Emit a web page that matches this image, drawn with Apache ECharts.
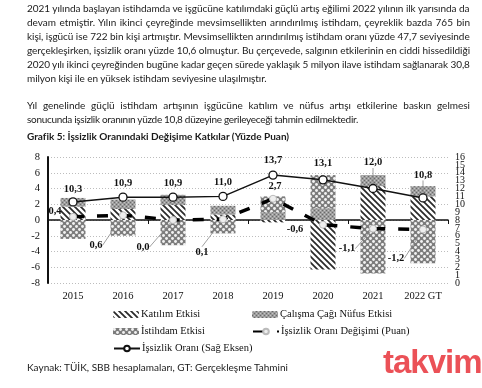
<!DOCTYPE html>
<html><head><meta charset="utf-8">
<script src="https://cdn.jsdelivr.net/npm/echarts@6/dist/echarts.min.js"></script>
<style>
html,body{margin:0;padding:0;background:#fff;}
#wrap{position:relative;width:482px;height:388px;overflow:hidden;}
#chart{position:absolute;left:0;top:0;width:482px;height:388px;}
.ln{position:absolute;left:27px;white-space:nowrap;font-family:Lato,"Open Sans",sans-serif;font-size:10px;color:#1a1a1a;line-height:12px;}
.ttl{font-weight:bold;}
#wm{position:absolute;left:383px;top:343px;font-family:"Liberation Sans",Arial,sans-serif;font-weight:bold;font-size:33px;color:#e8333a;opacity:0.85;letter-spacing:-1px;}
</style></head>
<body><div id="wrap"><div id="chart"></div>
<div id="texts"></div>
<div id="wm">takvim</div>
</div>
<script>
// ---------------- data ----------------
const categories = ['2015','2016','2017','2018','2019','2020','2021','2022 GT'];
const katilim  = [1.7, 1.4, 1.9, 0.7, -0.3, -6.3, 4.3, 3.0];
const nufus    = [1.1, 1.2, 1.3, 1.1, 1.0, 1.5, 1.4, 1.3];
const istihdam = [-2.4, -2.0, -3.2, -1.7, 2.0, 4.2, -6.8, -5.5];
const degisim  = [0.4, 0.6, 0.0, 0.1, 2.7, -0.6, -1.1, -1.2];
const oran     = [10.3, 10.9, 10.9, 11.0, 13.7, 13.1, 12.0, 10.8];
const leftTicks = {min:-8, max:8, interval:2};
const rightEvenTicks = [0, 2, 4, 6, 8, 10, 12, 14, 16];
const rightOddTicks = [1, 3, 5, 7, 9, 11, 13, 15];

const paragraph1 = [
 '2021 yılında başlayan istihdamda ve işgücüne katılımdaki güçlü artış eğilimi 2022 yılının ilk yarısında da',
 'devam etmiştir. Yılın ikinci çeyreğinde mevsimsellikten arındırılmış istihdam, çeyreklik bazda 765 bin',
 'kişi, işgücü ise 722 bin kişi artmıştır. Mevsimsellikten arındırılmış istihdam oranı yüzde 47,7 seviyesinde',
 'gerçekleşirken, işsizlik oranı yüzde 10,6 olmuştur. Bu çerçevede, salgının etkilerinin en ciddi hissedildiği',
 '2020 yılı ikinci çeyreğinden bugüne kadar geçen sürede yaklaşık 5 milyon ilave istihdam sağlanarak 30,8',
 'milyon kişi ile en yüksek istihdam seviyesine ulaşılmıştır.'
];
const paragraph2 = [
 'Yıl genelinde güçlü istihdam artışının işgücüne katılım ve nüfus artışı etkilerine baskın gelmesi',
 'sonucunda işsizlik oranının yüzde 10,8 düzeyine gerileyeceği tahmin edilmektedir.'
];
const chartTitle = 'Grafik 5: İşsizlik Oranındaki Değişime Katkılar (Yüzde Puan)';
const sourceText = 'Kaynak:  TÜİK, SBB hesaplamaları, GT: Gerçekleşme Tahmini';
const names = ['Katılım Etkisi','Çalışma Çağı Nüfus Etkisi','İstihdam Etkisi','İşsizlik Oranı Değişimi (Puan)','İşsizlik Oranı (Sağ Eksen)'];

// ---------------- text blocks ----------------
const texts = document.getElementById('texts');
function addLine(str, top, target, cls, justify){
  const d = document.createElement('div');
  d.className = 'ln' + (cls ? ' ' + cls : '');
  d.style.top = (top - 6) + 'px';
  d.textContent = str;
  texts.appendChild(d);
  if (target){
    const w = d.getBoundingClientRect().width;
    if (justify && w < target){
      const spaces = (str.match(/ /g) || []).length;
      d.style.wordSpacing = ((target - w) / spaces) + 'px';
    } else {
      d.style.letterSpacing = ((target - w) / str.length) + 'px';
    }
  }
}
const p1Tops = [7.5, 21.5, 35.5, 49.5, 63.5, 77.5];
const p1Targets = [443, 443, 443, 443, 443, 240];
paragraph1.forEach((s,i)=>addLine(s, p1Tops[i], p1Targets[i], '', i < 5));
addLine(paragraph2[0], 105, 443, '', true);
addLine(paragraph2[1], 119, 331);
addLine(chartTitle, 136, 262, 'ttl');
addLine(sourceText, 367, 261);

// ---------------- patterns ----------------
function stripes(){
  const c=document.createElement('canvas'); c.width=6; c.height=6;
  const g=c.getContext('2d'); g.fillStyle='#fff'; g.fillRect(0,0,6,6);
  g.strokeStyle='#2a2a2a'; g.lineWidth=1.7; g.beginPath();
  g.moveTo(-1,-1); g.lineTo(7,7); g.moveTo(-1,5); g.lineTo(1,7); g.moveTo(5,-1); g.lineTo(7,1);
  g.stroke(); return c;
}
function dense(){
  const c=document.createElement('canvas'); c.width=4; c.height=4;
  const g=c.getContext('2d'); g.fillStyle='#9c9c9c'; g.fillRect(0,0,4,4);
  g.fillStyle='#6a6a6a'; g.fillRect(0,0,1,1); g.fillRect(2,2,1,1);
  g.fillStyle='#c6c6c6'; g.fillRect(2,0,1,1); g.fillRect(0,2,1,1);
  return c;
}
function circles(){
  const c=document.createElement('canvas'); c.width=6; c.height=6;
  const g=c.getContext('2d'); g.fillStyle='#7c7c7c'; g.fillRect(0,0,6,6);
  g.fillStyle='#f2f2f2';
  [[1.5,1.5],[4.5,4.5],[4.5,-1.5],[-1.5,4.5],[7.5,1.5],[1.5,7.5]].forEach(p=>{g.beginPath();g.arc(p[0],p[1],1.45,0,Math.PI*2);g.fill();});
  return c;
}
const pStripes = {image: stripes(), repeat:'repeat'};
const pDense = {image: dense(), repeat:'repeat'};
const pCircles = {image: circles(), repeat:'repeat'};

// ---------------- chart ----------------
const fmt = v => v.toFixed(1).replace('.', ',');
const serif = '"Liberation Serif","Times New Roman",serif';
const oranDy = [-13,-14,-14,-14,-15,-17,-26,-23];
const oranLeader = [false,false,false,false,false,false,true,true];
const degOff = [[-18,-6],[-27,30],[-30,27],[-21,33],[2,-12],[-28,5],[-26,20],[-27,29]];
const degLeader = [false,true,true,true,false,false,true,true];

const chart = echarts.init(document.getElementById('chart'), null, {renderer:'canvas'});
const legendBase = {itemWidth:26, itemHeight:7, textStyle:{fontFamily:serif, fontSize:10.5, color:'#111', padding:[0,0,0,-3]}, itemGap:0, padding:0};
function lg(name, left, top){ return Object.assign({}, legendBase, {data:[name], left:left, top:top}); }
function rightAxis(vals){
  return {type:'value', min:0, max:16, position:'right', offset:0,
    axisLine:{show:false}, axisTick:{show:false}, splitLine:{show:false},
    axisLabel:{customValues:vals, fontFamily:serif, fontSize:10, color:'#111', margin:7, showMinLabel:true, showMaxLabel:true}};
}

chart.setOption({
  animation:false,
  grid:{left:48, right:34, top:157, bottom:105},
  legend:[
    lg(names[0],113,309), lg(names[1],252,309),
    lg(names[2],113,326), lg(names[3],252,326),
    lg(names[4],113,343)
  ],
  xAxis:[
    {type:'category', data:categories, axisLine:{onZero:true, lineStyle:{color:'#111', width:1.5}},
     axisTick:{show:true, length:4, lineStyle:{color:'#111'}}, axisLabel:{show:false}, splitLine:{show:false}},
    {type:'category', data:categories, position:'bottom', axisLine:{show:false, onZero:false}, axisTick:{show:false},
     axisLabel:{show:true, margin:8, fontFamily:serif, fontSize:10.5, color:'#111'}}
  ],
  yAxis:[
    {type:'value', min:leftTicks.min, max:leftTicks.max, interval:leftTicks.interval,
     axisLine:{show:true, lineStyle:{color:'#111', width:2}}, axisTick:{show:false},
     axisLabel:{fontFamily:serif, fontSize:10.5, color:'#111', margin:8, showMinLabel:true, showMaxLabel:true},
     splitLine:{show:true, lineStyle:{color:'#bdbdbd', type:[1,2], width:1}}},
    rightAxis(rightEvenTicks),
    rightAxis(rightOddTicks)
  ],
  series:[
    {name:names[0], type:'bar', stack:'k', barWidth:'50%', data:katilim, itemStyle:{color:pStripes}},
    {name:names[1], type:'bar', stack:'k', data:nufus, itemStyle:{color:pDense}},
    {name:names[2], type:'bar', stack:'k', data:istihdam, itemStyle:{color:pCircles}},
    {name:names[3], type:'line', data:degisim.map((v,i)=>({value:v, labelLine:{show:degLeader[i]}})),
     z:4, symbol:'circle', symbolSize:7,
     lineStyle:{color:'#000', width:3.5, type:[11,13]},
     itemStyle:{color:'#eeeeee', borderColor:'#bbbbbb', borderWidth:1},
     label:{show:true, position:'inside', formatter:p=>fmt(p.value), fontFamily:serif, fontWeight:'bold', fontSize:10.5, color:'#111'},
     labelLine:{show:true, lineStyle:{color:'#888', width:0.8}},
     labelLayout:p=>({dx:degOff[p.dataIndex][0], dy:degOff[p.dataIndex][1]})},
    {name:names[4], type:'line', yAxisIndex:1, data:oran.map((v,i)=>({value:v, labelLine:{show:oranLeader[i]}})),
     z:5, symbol:'circle', symbolSize:8,
     lineStyle:{color:'#111', width:1.5},
     itemStyle:{color:'#fff', borderColor:'#111', borderWidth:1.3},
     label:{show:true, position:'inside', formatter:p=>fmt(p.value), fontFamily:serif, fontWeight:'bold', fontSize:10.5, color:'#111'},
     labelLine:{show:true, lineStyle:{color:'#888', width:0.8}},
     labelLayout:p=>({dx:0, dy:oranDy[p.dataIndex]})}
  ]
});
</script></body></html>
